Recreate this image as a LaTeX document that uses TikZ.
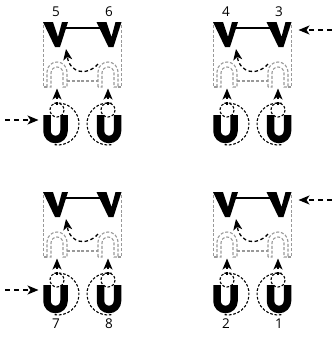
\documentclass[tikz,border=0pt]{standalone}
\usepackage{fontspec}
\setmainfont{Open Sans}
\usetikzlibrary{arrows.meta}
\tikzset{
  rail/.style={draw=black!40, dash pattern=on 3pt off 1.8pt, line width=1.1pt},
  flow/.style={draw=black, dash pattern=on 3.5pt off 2.6pt, line width=1.3pt, -{Stealth[length=11pt,width=9pt,inset=3pt]}},
  sideflow/.style={flow, dash pattern=on 5pt off 4pt},
  ring/.style={draw=black, dash pattern=on 2.6pt off 1.8pt, line width=1.1pt},
  vshape/.style={fill=black},
  ushape/.style={draw=black, line width=7.5pt},
  bond/.style={draw=black, line width=1.2pt},
  lab/.style={font=\fontsize{13.5}{14}\selectfont, inner sep=0pt},
}
\begin{document}
\begin{tikzpicture}[x=1pt,y=-1pt]
\useasboundingbox (0,0) rectangle (332,338);
\foreach \q/\dx/\dy/\la/\lb/\ly in {a/0/0/5/6/12, b/170/0/4/3/12, c/0/170/7/8/154, d/170/170/2/1/154}{
\begin{scope}[shift={(\dx,\dy)}]
  % gray frame
  \draw[rail] (43.5,25) -- (43.5,87) -- (47,87);
  \draw[rail] (47,87) -- (47,72) arc(180:360:10) -- (67,87) -- (63,87) -- (63,73) arc(360:180:6) -- (51,87) -- cycle;
  \draw[rail] (98,87) -- (98,72) arc(180:360:10) -- (118,87) -- (114,87) -- (114,73) arc(360:180:6) -- (102,87) -- cycle;
  \draw[rail] (67,81) -- (98,81);
  \draw[rail] (118,87) -- (121.5,87) -- (121.5,25);
  % V shapes
  \fill[vshape] (43,22) -- (53,22) -- (58,37) -- (62,22) -- (68,22) -- (60,47) -- (55,47) -- cycle;
  \fill[vshape] (96.5,22) -- (106.5,22) -- (111.5,37) -- (115.5,22) -- (121.5,22) -- (113.5,47) -- (108.5,47) -- cycle;
  \coordinate (vl\q) at (65.5,28);
  \coordinate (vr\q) at (99.5,28);
  \draw[bond] (vl\q) -- (vr\q);
  % labels
  \node[lab] (la\q) at (56,\ly) {\la};
  \node[lab] (lb\q) at (109,\ly) {\lb};
  % rotation rings
  \draw[ring] (57,110) circle (7);
  \draw[ring] (108,110) circle (7);
  \draw[ring] (54.4,103.3) arc(260:460:21);
  \draw[ring] (111.6,103.3) arc(280:80:21);
  % U shapes
  \draw[ushape] (47,115) -- (47,131) arc(180:0:8.5) -- (64,115);
  \draw[ushape] (100.5,115) -- (100.5,131) arc(180:0:8.5) -- (117.5,115);
  % arrows
  \coordinate (ul\q) at (57,105);
  \coordinate (al\q) at (57,88.5);
  \coordinate (ur\q) at (108,105);
  \coordinate (ar\q) at (108,88.5);
  \draw[flow] (ul\q) -- (al\q);
  \draw[flow] (ur\q) -- (ar\q);
  \coordinate (cs\q) at (98,64);
  \coordinate (ce\q) at (66,49);
  \draw[flow] (cs\q) .. controls (88,76) and (70,74) .. (ce\q);
\end{scope}}
% side arrows
\coordinate (inA) at (5,120);
\coordinate (toA) at (38.5,120);
\draw[sideflow] (inA) -- (toA);
\coordinate (inC) at (5,290);
\coordinate (toC) at (38.5,290);
\draw[sideflow] (inC) -- (toC);
\coordinate (inB) at (332,30);
\coordinate (toB) at (298.5,30);
\draw[sideflow] (inB) -- (toB);
\coordinate (inD) at (332,200);
\coordinate (toD) at (298.5,200);
\draw[sideflow] (inD) -- (toD);
\end{tikzpicture}
\end{document}
